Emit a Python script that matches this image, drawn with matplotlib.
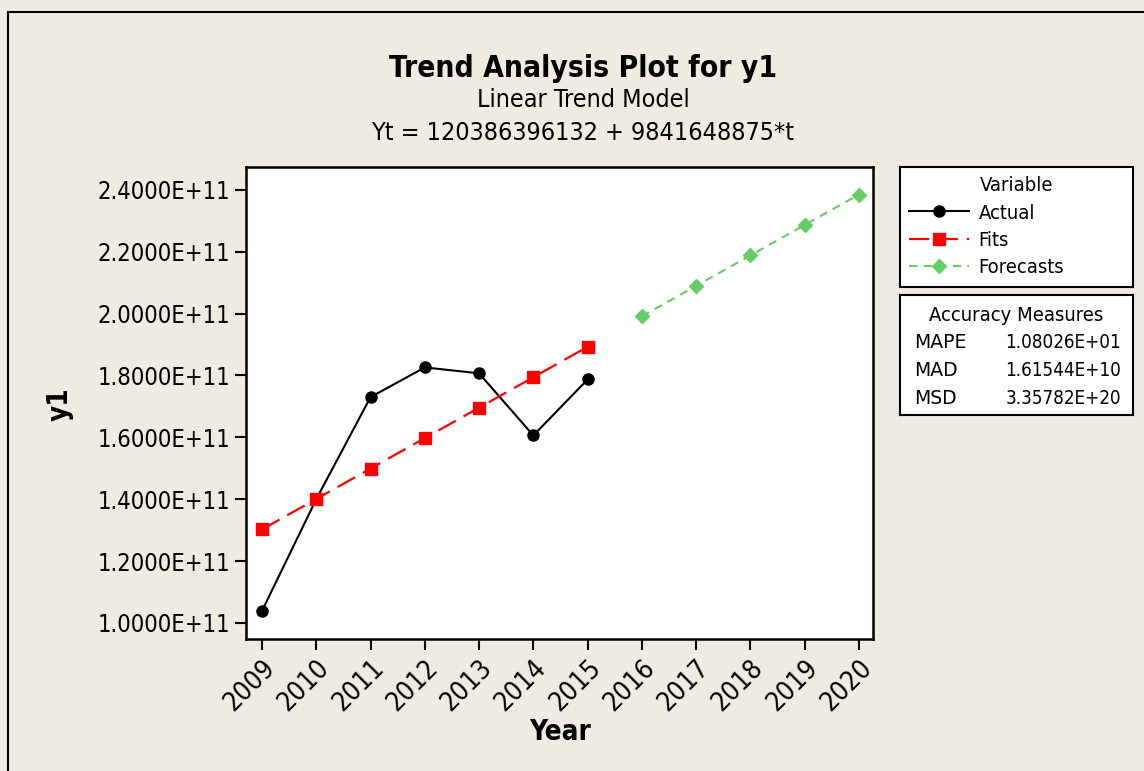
import matplotlib
matplotlib.use("Agg")
import matplotlib.pyplot as plt
from matplotlib.lines import Line2D

years_fit = [2009, 2010, 2011, 2012, 2013, 2014, 2015]
years_fc = [2016, 2017, 2018, 2019, 2020]
actual = [1.039e11, 1.400e11, 1.730e11, 1.826e11, 1.807e11, 1.606e11, 1.787e11]
fits = [1.30228e11, 1.40070e11, 1.49911e11, 1.59753e11, 1.69595e11, 1.79436e11, 1.89278e11]
forecasts = [1.99120e11, 2.08961e11, 2.18803e11, 2.28645e11, 2.38486e11]
y_ticks = [1.0e11, 1.2e11, 1.4e11, 1.6e11, 1.8e11, 2.0e11, 2.2e11, 2.4e11]
measures = ["MAPE", "MAD", "MSD"]
measure_vals = ["1.08026E+01", "1.61544E+10", "3.35782E+20"]

bg = "#efebe1"
green = "#66cc66"
plt.rcParams['font.family'] = ['DejaVu Sans']
plt.rcParams['font.stretch'] = 'condensed'

fig = plt.figure(figsize=(11.44, 7.71), dpi=100, facecolor=bg)
ax = fig.add_axes([246/1144, 1-639/771, 627/1144, 472/771])
ax.set_facecolor("white")

ax.plot(years_fit, actual, color="black", marker="o", markersize=8, lw=1.5, label="Actual")
ax.plot(years_fit, fits, color="red", marker="s", markersize=8, lw=1.6,
        dashes=(9, 4), label="Fits")
ax.plot(years_fc, forecasts, color=green, marker="D", markersize=7, lw=1.5,
        dashes=(4, 3), label="Forecasts")

ax.set_xlim(2008.705, 2020.26)
ax.set_ylim(0.948e11, 2.474e11)
ax.set_xticks(years_fit + years_fc)
ax.set_xticklabels([str(y) for y in years_fit + years_fc], rotation=45,
                   ha="right", rotation_mode="anchor", fontsize=19)
ax.set_yticks(y_ticks)
ax.set_yticklabels(["%.4fE+11" % (v / 1e11) for v in y_ticks], fontsize=17)
ax.tick_params(direction="out", length=8, width=1.5, color="black")
for s in ax.spines.values():
    s.set_linewidth(1.8)

fig.text(0.5096, 0.9118, "Trend Analysis Plot for y1", ha="center", va="center",
         fontsize=21.5, fontweight="bold")
fig.text(0.5096, 0.870, "Linear Trend Model", ha="center", va="center", fontsize=18)
fig.text(0.5096, 0.8275, "Yt = 120386396132 + 9841648875*t", ha="center", va="center",
         fontsize=18)
fig.text(60/1144, 1-404/771, "y1", rotation=90, ha="center", va="center", fontsize=20,
         fontweight="bold")
fig.text(560/1144, 1-732/771, "Year", ha="center", va="center", fontsize=20,
         fontweight="bold")

# outer frame
fig.add_artist(Line2D([8/1144, 8/1144], [0, 1-12/771], color="black", lw=1.5))
fig.add_artist(Line2D([8/1144, 1], [1-12/771, 1-12/771], color="black", lw=1.5))

leg = ax.legend(loc="upper left", bbox_to_anchor=(900/1144, 1-288/771, 233/1144, 121/771),
                bbox_transform=fig.transFigure, mode="expand", title="Variable",
                fontsize=14.5, title_fontsize=14.5, fancybox=False, framealpha=1,
                edgecolor="black", borderaxespad=0, handlelength=3, borderpad=0.45,
                labelspacing=0.42, handletextpad=0.45)
leg.get_frame().set_linewidth(1.5)

# accuracy measures box
tab = fig.add_axes([900/1144, 1-415/771, 233/1144, 120/771])
tab.set_xticks([])
tab.set_yticks([])
for s in tab.spines.values():
    s.set_linewidth(1.5)
tab.text(0.5, 0.83, "Accuracy Measures", ha="center", va="center", fontsize=14.5,
         transform=tab.transAxes)
for i, (m, v) in enumerate(zip(measures, measure_vals)):
    yy = 0.6 - i * 0.23
    tab.text(0.06, yy, m, ha="left", va="center", fontsize=13.5, transform=tab.transAxes,
             fontstretch="normal")
    tab.text(0.95, yy, v, ha="right", va="center", fontsize=13.5, transform=tab.transAxes)

fig.savefig("out.png", dpi=100, facecolor=bg)
